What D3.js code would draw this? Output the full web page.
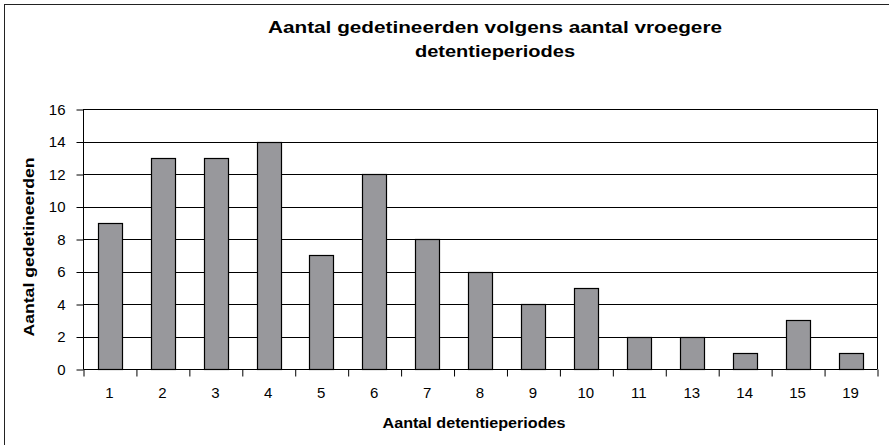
<!DOCTYPE html>
<html>
<head>
<meta charset="utf-8">
<script src="https://cdn.jsdelivr.net/npm/d3@7"></script>
<style>
  body { margin: 0; background: #fff; }
  svg { display: block; font-family: Arial, "Liberation Sans", sans-serif; }
</style>
</head>
<body>
<div id="chart-area"></div>
<script>
// data
const periods = ['1', '2', '3', '4', '5', '6', '7', '8', '9', '10', '11', '13', '14', '15', '19'];
const counts = [9, 13, 13, 14, 7, 12, 8, 6, 4, 5, 2, 2, 1, 3, 1];
const yTicks = [0, 2, 4, 6, 8, 10, 12, 14, 16];

const WIDTH = 889, HEIGHT = 445;
const PLOT = { left: 83, right: 877, top: 109, bottom: 369 };

const svg = d3.select('#chart-area').append('svg')
  .attr('width', WIDTH)
  .attr('height', HEIGHT);

// outer chart border (cut off on the right and bottom)
svg.append('rect')
  .attr('x', 4.5).attr('y', 4.5)
  .attr('width', WIDTH + 10).attr('height', HEIGHT + 10)
  .attr('fill', 'none')
  .attr('stroke', '#222');

// scales
const xScale = d3.scaleBand()
  .domain(periods)
  .range([PLOT.left, PLOT.right])
  .paddingInner(0.556)
  .paddingOuter(0.278);
const xEdges = d3.scaleLinear()
  .domain([0, periods.length])
  .range([PLOT.left, PLOT.right]);
const yScale = d3.scaleLinear()
  .domain([0, 16])
  .range([PLOT.bottom, PLOT.top]);

// gridlines
svg.append('g')
  .selectAll('line')
  .data(yTicks.filter(d => d > 0))
  .join('line')
  .attr('x1', PLOT.left).attr('x2', PLOT.right)
  .attr('y1', d => Math.round(yScale(d)) + 0.5)
  .attr('y2', d => Math.round(yScale(d)) + 0.5)
  .attr('stroke', '#000');

// right edge of plot area
svg.append('line')
  .attr('x1', PLOT.right + 0.5).attr('x2', PLOT.right + 0.5)
  .attr('y1', PLOT.top).attr('y2', PLOT.bottom)
  .attr('stroke', '#000');

// bars
svg.append('g')
  .selectAll('rect')
  .data(counts)
  .join('rect')
  .attr('x', (d, i) => Math.round(xScale(periods[i])) + 0.5)
  .attr('y', d => Math.round(yScale(d)) + 0.5)
  .attr('width', Math.round(xScale.bandwidth()))
  .attr('height', d => Math.round(yScale(0)) - Math.round(yScale(d)))
  .attr('fill', '#98989c')
  .attr('stroke', '#000')
  .attr('stroke-width', 1.2);

// Y axis
const yAxisCall = d3.axisLeft(yScale)
  .tickValues(yTicks)
  .tickSize(7)
  .tickPadding(11);
const yAxis = svg.append('g')
  .attr('transform', `translate(${PLOT.left + 0.5}, 0.5)`)
  .call(yAxisCall);
yAxis.select('.domain').attr('stroke', '#000').attr('d', `M0,${PLOT.top}V${PLOT.bottom}`);
yAxis.selectAll('line').attr('stroke', '#000');
yAxis.selectAll('text')
  .attr('font-size', '15px')
  .attr('fill', '#000')
  .attr('font-family', 'Arial, "Liberation Sans", sans-serif');

// X axis: ticks at category edges, labels centred under the bars
const xTickCall = d3.axisBottom(xEdges)
  .tickValues(d3.range(periods.length + 1))
  .tickSize(7)
  .tickFormat('');
const xTicks = svg.append('g')
  .attr('transform', `translate(0.5, ${PLOT.bottom + 0.5})`)
  .call(xTickCall);
xTicks.select('.domain').attr('stroke', '#000').attr('d', `M${PLOT.left},0H${PLOT.right}`);
xTicks.selectAll('line').attr('stroke', '#000');

const xLabelCall = d3.axisBottom(xScale).tickSize(0).tickPadding(18);
const xLabels = svg.append('g')
  .attr('transform', `translate(0, ${PLOT.bottom})`)
  .call(xLabelCall);
xLabels.select('.domain').remove();
xLabels.selectAll('text')
  .attr('font-size', '15px')
  .attr('fill', '#000')
  .attr('font-family', 'Arial, "Liberation Sans", sans-serif');

// title (the original's lettering is a little wider than Arial)
const title = svg.append('text')
  .attr('text-anchor', 'middle')
  .attr('font-size', '16px')
  .attr('font-weight', 'bold');
title.append('tspan').attr('x', 495).attr('y', 33)
  .attr('textLength', 454).attr('lengthAdjust', 'spacingAndGlyphs')
  .text('Aantal gedetineerden volgens aantal vroegere');
title.append('tspan').attr('x', 495).attr('y', 57)
  .attr('textLength', 160).attr('lengthAdjust', 'spacingAndGlyphs')
  .text('detentieperiodes');

// axis titles
svg.append('text')
  .attr('x', 474)
  .attr('y', 428)
  .attr('text-anchor', 'middle')
  .attr('font-size', '14px')
  .attr('font-weight', 'bold')
  .attr('textLength', 183).attr('lengthAdjust', 'spacingAndGlyphs')
  .text('Aantal detentieperiodes');

svg.append('text')
  .attr('transform', 'translate(34, 247) rotate(-90)')
  .attr('text-anchor', 'middle')
  .attr('font-size', '14px')
  .attr('font-weight', 'bold')
  .attr('textLength', 179).attr('lengthAdjust', 'spacingAndGlyphs')
  .text('Aantal gedetineerden');
</script>
</body>
</html>
